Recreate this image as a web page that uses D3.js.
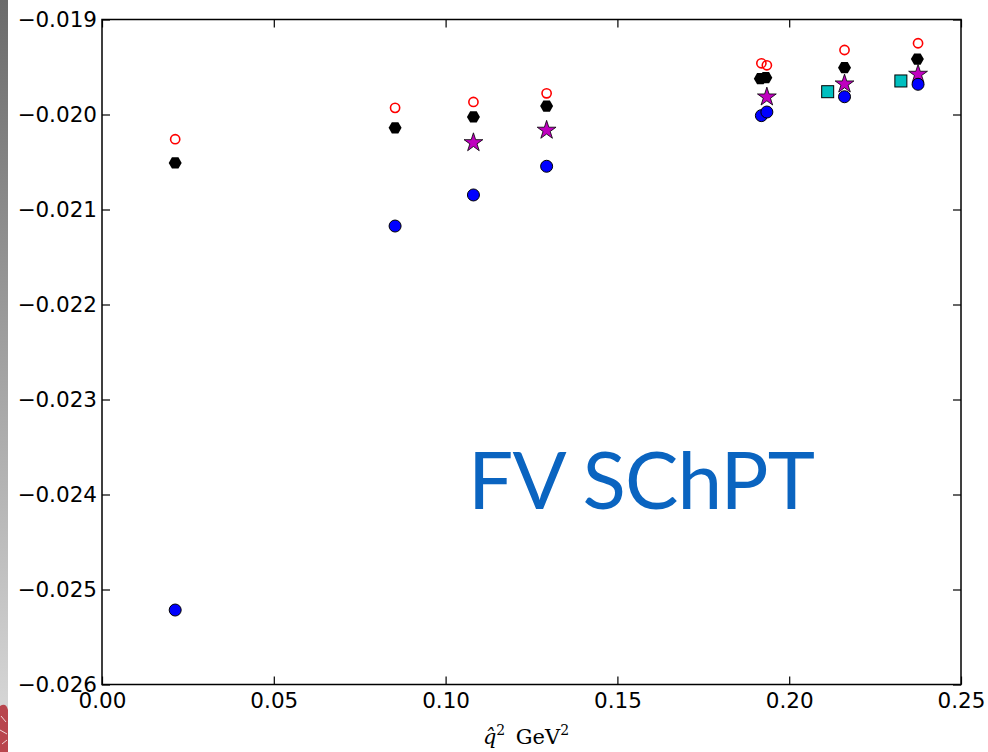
<!DOCTYPE html>
<html>
<head>
<meta charset="utf-8">
<script src="https://cdn.jsdelivr.net/npm/d3@7"></script>
<style>
  body { margin: 0; background: #fff; }
  svg { display: block; }
</style>
</head>
<body>
<script>
// data
const redX = [0.0213, 0.0853, 0.1081, 0.1294, 0.1919, 0.1935, 0.2161, 0.2375];
const redY = [-0.02026, -0.01993, -0.019868, -0.019777, -0.019461, -0.019482, -0.019321, -0.01925];

const blackX = [0.0213, 0.0853, 0.1081, 0.1294, 0.1916, 0.1932, 0.2161, 0.2373];
const blackY = [-0.02051, -0.02014, -0.020026, -0.019911, -0.019623, -0.019613, -0.019507, -0.019416];

const starX = [0.1081, 0.1294, 0.1935, 0.2161, 0.2375];
const starY = [-0.020297, -0.020166, -0.019816, -0.019679, -0.019577];

const squareX = [0.2112, 0.2325];
const squareY = [-0.01976, -0.019647];

const blueX = [0.0213, 0.0853, 0.1081, 0.1294, 0.1919, 0.1935, 0.2161, 0.2375];
const blueY = [-0.025216, -0.021174, -0.020847, -0.020545, -0.020012, -0.019974, -0.019813, -0.019682];

const xTicks = [0, 0.05, 0.10, 0.15, 0.20, 0.25];
const yTicks = [-0.019, -0.020, -0.021, -0.022, -0.023, -0.024, -0.025, -0.026];

const W = 988, H = 752;
const pLeft = 102, pRight = 961, pTop = 19.5, pBottom = 684.5;

const svg = d3.select("body").append("svg")
  .attr("width", W)
  .attr("height", H);

// grey strip on the left edge (slide background)
const grad = svg.append("defs").append("linearGradient")
  .attr("id", "strip").attr("x1", 0).attr("y1", 0).attr("x2", 0).attr("y2", 1);
grad.append("stop").attr("offset", "0%").attr("stop-color", "#6b6b6b");
grad.append("stop").attr("offset", "100%").attr("stop-color", "#dcdcdc");
svg.append("rect").attr("x", 0).attr("y", 0).attr("width", 8).attr("height", H).attr("fill", "url(#strip)");
// bit of the red logo at the bottom left
svg.append("path")
  .attr("d", "M0,706 Q6,702 8,710 L8,752 L0,752 Z")
  .attr("fill", "#b0202a").attr("opacity", 0.8);
svg.append("path")
  .attr("d", "M1,716 L6,722 M0,730 L7,734 M2,744 L7,740")
  .attr("stroke", "#f2d8da").attr("stroke-width", 1).attr("fill", "none");

const x = d3.scaleLinear().domain([0, 0.25]).range([pLeft, pRight]);
const y = d3.scaleLinear().domain([-0.026, -0.019]).range([pBottom, pTop]);

const fmtX = d3.format(".2f");
const fmtY = v => d3.format(".3f")(v).replace("-", "\u2212");

// axes, ticks inward on all four sides
svg.append("g").attr("transform", `translate(0,${pBottom})`)
  .call(d3.axisBottom(x).tickValues(xTicks).tickSizeInner(-8).tickSizeOuter(0).tickPadding(8).tickFormat(fmtX))
  .call(g => g.select(".domain").remove());
svg.append("g").attr("transform", `translate(0,${pTop})`)
  .call(d3.axisTop(x).tickValues(xTicks).tickSizeInner(-8).tickSizeOuter(0).tickFormat(""))
  .call(g => g.select(".domain").remove());
svg.append("g").attr("transform", `translate(${pLeft},0)`)
  .call(d3.axisLeft(y).tickValues(yTicks).tickSizeInner(-8).tickSizeOuter(0).tickPadding(5).tickFormat(fmtY))
  .call(g => g.select(".domain").remove());
svg.append("g").attr("transform", `translate(${pRight},0)`)
  .call(d3.axisRight(y).tickValues(yTicks).tickSizeInner(-8).tickSizeOuter(0).tickFormat(""))
  .call(g => g.select(".domain").remove());

svg.selectAll(".tick line").attr("stroke", "#000").attr("stroke-width", 1.2);
svg.selectAll(".tick text")
  .attr("font-family", "DejaVu Sans")
  .attr("font-size", 21.5)
  .attr("fill", "#000");

svg.append("rect")
  .attr("x", pLeft).attr("y", pTop)
  .attr("width", pRight - pLeft).attr("height", pBottom - pTop)
  .attr("fill", "none").attr("stroke", "#000").attr("stroke-width", 1.5);

// x axis label
const xl = svg.append("text")
  .attr("x", 526).attr("y", 744)
  .attr("text-anchor", "middle")
  .attr("font-family", "DejaVu Serif")
  .attr("font-size", 21);
xl.append("tspan").attr("font-style", "italic").text("q\u0302");
xl.append("tspan").attr("dy", -9).attr("font-size", 14).text("2");
xl.append("tspan").attr("dy", 9).text("\u2002GeV");
xl.append("tspan").attr("dy", -9).attr("font-size", 14).text("2");

// big annotation
svg.append("text")
  .attr("x", 468).attr("y", 509)
  .attr("font-family", "Lato")
  .attr("font-size", 80)
  .attr("fill", "#0a64c0")
  .attr("textLength", 347)
  .text("FV SChPT");

// markers
const pts = (xs, ys) => xs.map((d, i) => [d, ys[i]]);

svg.append("g").selectAll("circle").data(pts(redX, redY)).join("circle")
  .attr("cx", d => x(d[0])).attr("cy", d => y(d[1]))
  .attr("r", 4.6)
  .attr("fill", "none").attr("stroke", "#ff0000").attr("stroke-width", 1.6);

const hex = d3.symbol().type({
  draw(ctx, size) {
    const r = Math.sqrt(size / 2.598);
    for (let k = 0; k < 6; k++) {
      const a = Math.PI / 3 * k;
      const px = r * Math.cos(a), py = r * Math.sin(a);
      k === 0 ? ctx.moveTo(px, py) : ctx.lineTo(px, py);
    }
    ctx.closePath();
  }
}).size(2.598 * 6.5 * 6.5);

svg.append("g").selectAll("path").data(pts(blackX, blackY)).join("path")
  .attr("transform", d => `translate(${x(d[0])},${y(d[1])})`)
  .attr("d", hex)
  .attr("fill", "#000");

const star = d3.symbol().type(d3.symbolStar).size(110);
svg.append("g").selectAll("path").data(pts(starX, starY)).join("path")
  .attr("transform", d => `translate(${x(d[0])},${y(d[1])})`)
  .attr("d", star)
  .attr("fill", "#bf00bf").attr("stroke", "#000").attr("stroke-width", 0.8);

svg.append("g").selectAll("rect").data(pts(squareX, squareY)).join("rect")
  .attr("x", d => x(d[0]) - 6).attr("y", d => y(d[1]) - 6)
  .attr("width", 12).attr("height", 12)
  .attr("fill", "#00bfbf").attr("stroke", "#000").attr("stroke-width", 1);

svg.append("g").selectAll("circle").data(pts(blueX, blueY)).join("circle")
  .attr("cx", d => x(d[0])).attr("cy", d => y(d[1]))
  .attr("r", 6)
  .attr("fill", "#0000ff").attr("stroke", "#000").attr("stroke-width", 1);
</script>
</body>
</html>
